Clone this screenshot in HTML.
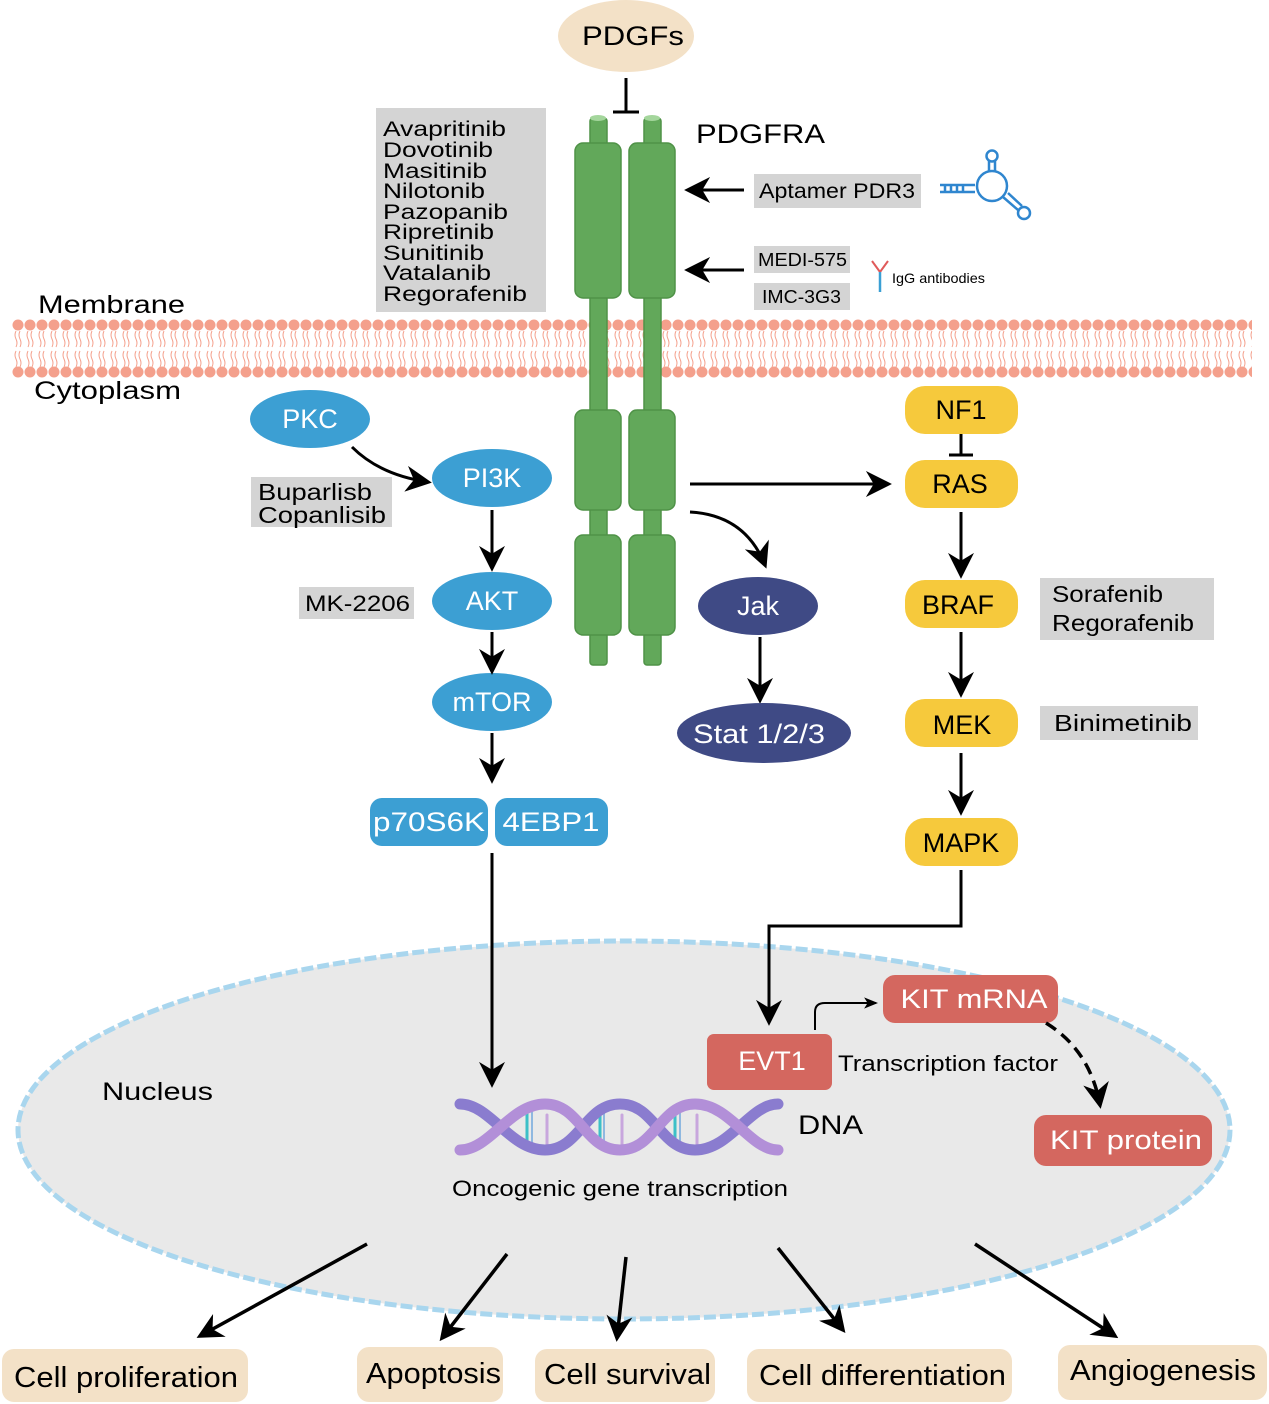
<!DOCTYPE html>
<html><head><meta charset="utf-8"><style>
html,body{margin:0;padding:0;background:#fff;}
svg{display:block;font-family:"Liberation Sans",Arial,sans-serif;}
</style></head><body>
<svg width="1269" height="1404" viewBox="0 0 1269 1404" xmlns="http://www.w3.org/2000/svg">
<defs>
<marker id="a" viewBox="0 0 20 20" markerWidth="26" markerHeight="26" markerUnits="userSpaceOnUse" refX="17" refY="10" orient="auto">
<path d="M0,0 L20,10 L0,20 L6,10 z" fill="#000"/></marker>
<marker id="s" viewBox="0 0 20 20" markerWidth="14" markerHeight="14" markerUnits="userSpaceOnUse" refX="17" refY="10" orient="auto">
<path d="M0,2 L20,10 L0,18 L5,10 z" fill="#000"/></marker>
<pattern id="mem" x="12" y="318" width="12" height="62" patternUnits="userSpaceOnUse">
<circle cx="6" cy="7" r="5.5" fill="#f4a08c"/>
<circle cx="6" cy="54" r="5.5" fill="#f4a08c"/>
<path d="M4,13 q-2,4 0,8 q2,4 0,8 M8,13 q-2,4 0,8 q2,4 0,8 M4,33 q-2,4 0,8 q2,4 0,8 M8,33 q-2,4 0,8 q2,4 0,8" stroke="#f4a08c" stroke-width="1" fill="none"/>
</pattern>
</defs>

<ellipse cx="624" cy="1130" rx="606" ry="189" fill="#e9e9e9" stroke="#a9d6ee" stroke-width="5" stroke-dasharray="12,4"/>
<rect x="12" y="318" width="1240" height="62" fill="url(#mem)"/>

<ellipse cx="626" cy="36" rx="68" ry="36" fill="#f3e1c7"/>
<text x="633" y="45" font-size="27" text-anchor="middle" textLength="102" lengthAdjust="spacingAndGlyphs">PDGFs</text>
<path d="M626,78 V112 M613,112 H639" stroke="#000" stroke-width="3" fill="none"/>

<g fill="#62a85a" stroke="#4f9247" stroke-width="1.5">
<rect x="590" y="118" width="17" height="547" rx="3"/>
<rect x="644" y="118" width="17" height="547" rx="3"/>
<rect x="575" y="143" width="46" height="155" rx="8"/>
<rect x="629" y="143" width="46" height="155" rx="8"/>
<rect x="575" y="410" width="46" height="100" rx="8"/>
<rect x="629" y="410" width="46" height="100" rx="8"/>
<rect x="575" y="535" width="46" height="100" rx="8"/>
<rect x="629" y="535" width="46" height="100" rx="8"/>
</g>
<ellipse cx="598" cy="118" rx="8" ry="3" fill="#a4d69c"/>
<ellipse cx="652" cy="118" rx="8" ry="3" fill="#a4d69c"/>
<text x="696" y="143" font-size="27" textLength="129" lengthAdjust="spacingAndGlyphs">PDGFRA</text>

<rect x="376" y="108" width="170" height="204" fill="#d4d4d4"/>
<g font-size="21" lengthAdjust="spacingAndGlyphs">
<text x="383" y="136" textLength="123" lengthAdjust="spacingAndGlyphs">Avapritinib</text>
<text x="383" y="157" textLength="110" lengthAdjust="spacingAndGlyphs">Dovotinib</text>
<text x="383" y="178" textLength="104" lengthAdjust="spacingAndGlyphs">Masitinib</text>
<text x="383" y="198" textLength="102" lengthAdjust="spacingAndGlyphs">Nilotonib</text>
<text x="383" y="219" textLength="125" lengthAdjust="spacingAndGlyphs">Pazopanib</text>
<text x="383" y="239" textLength="111" lengthAdjust="spacingAndGlyphs">Ripretinib</text>
<text x="383" y="260" textLength="101" lengthAdjust="spacingAndGlyphs">Sunitinib</text>
<text x="383" y="280" textLength="108" lengthAdjust="spacingAndGlyphs">Vatalanib</text>
<text x="383" y="301" textLength="144" lengthAdjust="spacingAndGlyphs">Regorafenib</text>
</g>

<path d="M744,190 H688" stroke="#000" stroke-width="3" marker-end="url(#a)"/>
<rect x="754" y="174" width="167" height="34" fill="#d4d4d4"/>
<text x="759" y="198" font-size="21" textLength="156" lengthAdjust="spacingAndGlyphs">Aptamer PDR3</text>
<g stroke="#2f86cf" stroke-width="2.5" fill="none">
<path d="M940,185 H975 M940,192 H975 M945,185 V192 M951,185 V192 M957,185 V192 M963,185 V192"/>
<circle cx="992" cy="186" r="15"/>
<path d="M989,171 V160 M995,171 V160"/><circle cx="992" cy="156" r="5.5"/>
<path d="M1003,197 L1018,210 M1008,193 L1022,206"/><circle cx="1024" cy="213" r="6"/>
</g>
<path d="M744,270 H688" stroke="#000" stroke-width="3" marker-end="url(#a)"/>
<rect x="754" y="246" width="96" height="27" fill="#d4d4d4"/>
<text x="758" y="266" font-size="18" textLength="89" lengthAdjust="spacingAndGlyphs">MEDI-575</text>
<rect x="754" y="283" width="96" height="27" fill="#d4d4d4"/>
<text x="762" y="303" font-size="18" textLength="79" lengthAdjust="spacingAndGlyphs">IMC-3G3</text>
<path d="M872,261 L880,272 L888,261" stroke="#e05a5a" stroke-width="2" fill="none"/>
<path d="M880,272 V292" stroke="#3a9fd4" stroke-width="2.5"/>
<text x="892" y="283" font-size="14" textLength="93" lengthAdjust="spacingAndGlyphs">IgG antibodies</text>

<text x="38" y="313" font-size="25" textLength="147" lengthAdjust="spacingAndGlyphs">Membrane</text>
<text x="34" y="399" font-size="25" textLength="147" lengthAdjust="spacingAndGlyphs">Cytoplasm</text>

<g fill="#3c9fd3">
<ellipse cx="310" cy="419" rx="60" ry="29"/>
<ellipse cx="492" cy="478" rx="60" ry="29"/>
<ellipse cx="492" cy="601" rx="60" ry="29"/>
<ellipse cx="492" cy="702" rx="60" ry="29"/>
<rect x="370" y="798" width="118" height="48" rx="12"/>
<rect x="495" y="798" width="113" height="48" rx="12"/>
</g>
<g fill="#fff" font-size="27" text-anchor="middle">
<text x="310" y="428">PKC</text><text x="492" y="487">PI3K</text><text x="492" y="610">AKT</text>
<text x="492" y="711">mTOR</text>
<text x="429" y="831" textLength="112" lengthAdjust="spacingAndGlyphs">p70S6K</text>
<text x="551" y="831" textLength="97" lengthAdjust="spacingAndGlyphs">4EBP1</text>
</g>
<path d="M352,447 Q380,475 428,482" stroke="#000" stroke-width="3" fill="none" marker-end="url(#a)"/>
<rect x="251" y="477" width="141" height="50" fill="#d4d4d4"/>
<text x="258" y="500" font-size="23" textLength="114" lengthAdjust="spacingAndGlyphs">Buparlisb</text>
<text x="258" y="523" font-size="23" textLength="128" lengthAdjust="spacingAndGlyphs">Copanlisib</text>
<path d="M492,510 V568" stroke="#000" stroke-width="3" marker-end="url(#a)"/>
<rect x="299" y="587" width="115" height="32" fill="#d4d4d4"/>
<text x="305" y="611" font-size="22" textLength="105" lengthAdjust="spacingAndGlyphs">MK-2206</text>
<path d="M492,632 V671" stroke="#000" stroke-width="3" marker-end="url(#a)"/>
<path d="M492,733 V780" stroke="#000" stroke-width="3" marker-end="url(#a)"/>
<path d="M492,853 V1084" stroke="#000" stroke-width="3" marker-end="url(#a)"/>

<path d="M690,512 Q745,515 765,565" stroke="#000" stroke-width="3" fill="none" marker-end="url(#a)"/>
<ellipse cx="758" cy="606" rx="60" ry="29" fill="#3f4a85"/>
<text x="758" y="615" fill="#fff" font-size="27" text-anchor="middle">Jak</text>
<path d="M760,637 V700" stroke="#000" stroke-width="3" marker-end="url(#a)"/>
<ellipse cx="764" cy="733" rx="87" ry="30" fill="#3f4a85"/>
<text x="759" y="743" fill="#fff" font-size="27" text-anchor="middle" textLength="132" lengthAdjust="spacingAndGlyphs">Stat 1/2/3</text>

<path d="M690,484 H888" stroke="#000" stroke-width="3" marker-end="url(#a)"/>
<g fill="#f6c93c">
<rect x="905" y="386" width="113" height="48" rx="20"/>
<rect x="905" y="460" width="113" height="48" rx="20"/>
<rect x="905" y="580" width="113" height="48" rx="20"/>
<rect x="905" y="699" width="113" height="48" rx="20"/>
<rect x="905" y="818" width="113" height="48" rx="20"/>
</g>
<g font-size="27" text-anchor="middle">
<text x="961" y="419">NF1</text><text x="960" y="493">RAS</text><text x="958" y="614">BRAF</text>
<text x="962" y="734">MEK</text><text x="961" y="852">MAPK</text>
</g>
<path d="M961,434 V455 M949,455 H973" stroke="#000" stroke-width="3" fill="none"/>
<path d="M961,512 V575" stroke="#000" stroke-width="3" marker-end="url(#a)"/>
<path d="M961,632 V694" stroke="#000" stroke-width="3" marker-end="url(#a)"/>
<path d="M961,753 V812" stroke="#000" stroke-width="3" marker-end="url(#a)"/>
<rect x="1040" y="578" width="174" height="62" fill="#d4d4d4"/>
<text x="1052" y="602" font-size="23" textLength="111" lengthAdjust="spacingAndGlyphs">Sorafenib</text>
<text x="1052" y="631" font-size="23" textLength="142" lengthAdjust="spacingAndGlyphs">Regorafenib</text>
<rect x="1040" y="706" width="158" height="34" fill="#d4d4d4"/>
<text x="1054" y="731" font-size="23" textLength="138" lengthAdjust="spacingAndGlyphs">Binimetinib</text>
<path d="M961,870 V926 H769 V1022" stroke="#000" stroke-width="3" fill="none" marker-end="url(#a)"/>

<g fill="#d4675f">
<rect x="707" y="1034" width="125" height="56" rx="7"/>
<rect x="883" y="975" width="175" height="48" rx="12"/>
<rect x="1034" y="1115" width="178" height="51" rx="12"/>
</g>
<g fill="#fff" font-size="27" text-anchor="middle">
<text x="772" y="1070">EVT1</text>
<text x="974" y="1008" textLength="147" lengthAdjust="spacingAndGlyphs">KIT mRNA</text>
<text x="1126" y="1149" textLength="152" lengthAdjust="spacingAndGlyphs">KIT protein</text>
</g>
<path d="M815,1030 V1012 Q815,1003 825,1003 H876" stroke="#000" stroke-width="2" fill="none" marker-end="url(#s)"/>
<text x="838" y="1071" font-size="22" textLength="220" lengthAdjust="spacingAndGlyphs">Transcription factor</text>
<path d="M1046,1023 Q1090,1050 1100,1105" stroke="#000" stroke-width="3.5" fill="none" stroke-dasharray="12,7" marker-end="url(#a)"/>
<text x="102" y="1100" font-size="25" textLength="111" lengthAdjust="spacingAndGlyphs">Nucleus</text>

<g fill="none" stroke-linecap="round">
<g stroke="#8fb8e0" stroke-width="2"><path d="M532,1112 V1146 M604,1112 V1146 M680,1112 V1146"/></g>
<g stroke="#3cc0c8" stroke-width="3"><path d="M527,1112 V1144 M600,1112 V1144 M675,1112 V1144"/></g>
<g stroke="#c8a6dd" stroke-width="3"><path d="M547,1115 V1145 M622,1115 V1145 M697,1115 V1145"/></g>
<path d="M460,1104 C490,1104 510,1150 545,1150 C580,1150 585,1104 620,1104 C655,1104 660,1150 695,1150 C730,1150 750,1104 778,1104" stroke="#8a7ccf" stroke-width="11"/>
<path d="M460,1150 C490,1150 510,1104 545,1104 C580,1104 585,1150 620,1150 C655,1150 660,1104 695,1104 C730,1104 750,1150 778,1150" stroke="#b28fd8" stroke-width="11"/>
</g>
<text x="798" y="1134" font-size="27" textLength="65" lengthAdjust="spacingAndGlyphs">DNA</text>
<text x="452" y="1196" font-size="22" textLength="336" lengthAdjust="spacingAndGlyphs">Oncogenic gene transcription</text>

<g stroke="#000" stroke-width="3.5" fill="none">
<path d="M367,1244 L200,1336" marker-end="url(#a)"/>
<path d="M507,1254 L442,1338" marker-end="url(#a)"/>
<path d="M626,1257 L617,1338" marker-end="url(#a)"/>
<path d="M778,1248 L843,1330" marker-end="url(#a)"/>
<path d="M975,1244 L1115,1336" marker-end="url(#a)"/>
</g>
<g fill="#f3e1c7">
<rect x="2" y="1349" width="246" height="53" rx="12"/>
<rect x="357" y="1347" width="146" height="55" rx="12"/>
<rect x="535" y="1349" width="180" height="53" rx="12"/>
<rect x="747" y="1349" width="265" height="53" rx="12"/>
<rect x="1058" y="1345" width="209" height="55" rx="12"/>
</g>
<g font-size="29">
<text x="14" y="1387" textLength="224" lengthAdjust="spacingAndGlyphs">Cell proliferation</text>
<text x="366" y="1383" textLength="135" lengthAdjust="spacingAndGlyphs">Apoptosis</text>
<text x="544" y="1384" textLength="167" lengthAdjust="spacingAndGlyphs">Cell survival</text>
<text x="759" y="1385" textLength="247" lengthAdjust="spacingAndGlyphs">Cell differentiation</text>
<text x="1070" y="1380" textLength="186" lengthAdjust="spacingAndGlyphs">Angiogenesis</text>
</g>
</svg>
</body></html>
